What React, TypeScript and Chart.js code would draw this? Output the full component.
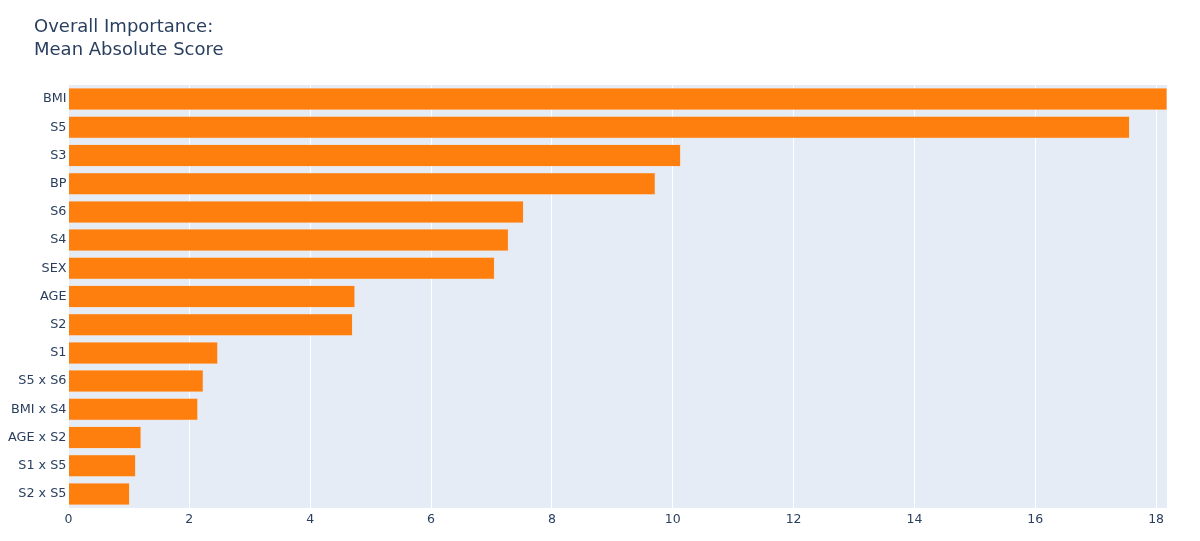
import React, { useEffect, useRef } from "react";
import { Chart, registerables } from "chart.js";

Chart.register(...registerables);

const features = [
  "BMI", "S5", "S3", "BP", "S6", "S4", "SEX", "AGE", "S2", "S1",
  "S5 x S6", "BMI x S4", "AGE x S2", "S1 x S5", "S2 x S5",
];
const scores = [
  18.18, 17.56, 10.13, 9.71, 7.53, 7.28, 7.05, 4.74, 4.70, 2.47,
  2.23, 2.14, 1.20, 1.11, 1.01,
];
const titleLines = ["Overall Importance:", "Mean Absolute Score"];
const xMax = 18.18;

const FONT = "'DejaVu Sans', Verdana, sans-serif";
const TEXT = "#2a3f5f";

export default function App() {
  const ref = useRef<HTMLCanvasElement | null>(null);

  useEffect(() => {
    document.body.style.margin = "0";
    const canvas = ref.current;
    if (!canvas) return;

    const bgPlugin = {
      id: "plotBg",
      beforeDraw(chart: any) {
        const { ctx, chartArea } = chart;
        ctx.save();
        ctx.fillStyle = "#e5ecf6";
        ctx.fillRect(chartArea.left, chartArea.top, chartArea.right - chartArea.left, chartArea.bottom - chartArea.top);
        ctx.restore();
      },
      afterDraw(chart: any) {
        const { ctx } = chart;
        ctx.save();
        ctx.fillStyle = TEXT;
        ctx.font = `18px ${FONT}`;
        ctx.textBaseline = "alphabetic";
        ctx.textAlign = "left";
        ctx.fillText(titleLines[0], 34, 32);
        ctx.fillText(titleLines[1], 34, 55);
        ctx.restore();
      },
    };

    const chart = new Chart(canvas, {
      type: "bar",
      data: {
        labels: features,
        datasets: [
          {
            data: scores,
            backgroundColor: "#ff7f0e",
            borderColor: "rgba(255,200,150,0.9)",
            borderWidth: 0.5,
            barPercentage: 0.78,
            categoryPercentage: 1,
          },
        ],
      },
      options: {
        indexAxis: "y",
        responsive: false,
        animation: false,
        layout: { padding: { top: 85, right: 33, left: 0, bottom: 0 } },
        plugins: {
          legend: { display: false },
          title: { display: false },
          tooltip: { enabled: false },
        },
        scales: {
          x: {
            type: "linear",
            min: 0,
            max: xMax,
            ticks: {
              stepSize: 2,
              includeBounds: false,
              color: TEXT,
              font: { family: FONT, size: 12.5 },
              padding: 4,
              maxRotation: 0,
            },
            grid: { color: "#ffffff", lineWidth: 1, drawTicks: false },
            border: { display: false },
            afterFit(scale: any) {
              scale.height = 33;
            },
          },
          y: {
            ticks: {
              color: TEXT,
              font: { family: FONT, size: 12.8 },
              padding: 2,
              autoSkip: false,
            },
            grid: { display: false, drawTicks: false },
            border: { display: false },
            afterFit(scale: any) {
              scale.width = 68.5;
            },
          },
        },
      },
      plugins: [bgPlugin],
    });

    return () => chart.destroy();
  }, []);

  return (
    <div style={{ position: "relative", width: 1200, height: 541 }}>
      <canvas ref={ref} width={1200} height={541} style={{ display: "block" }} />
    </div>
  );
}
